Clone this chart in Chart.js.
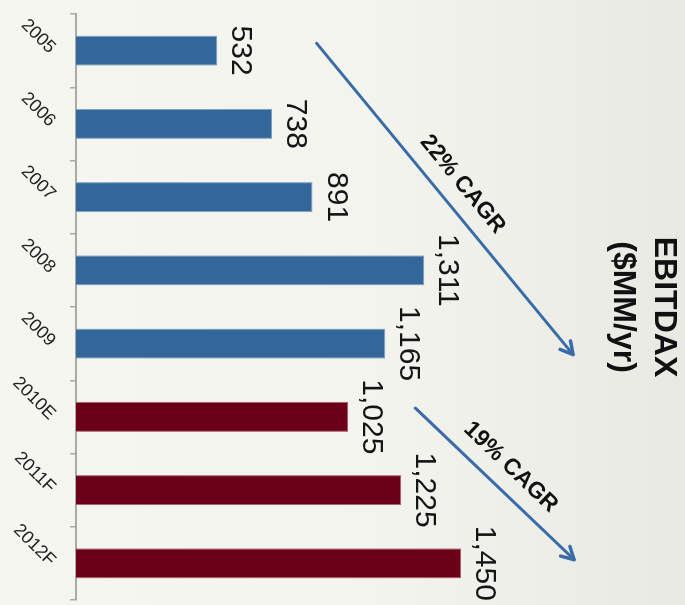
<!DOCTYPE html>
<html lang="en">
<head>
<meta charset="UTF-8">
<title>EBITDAX ($MM/yr)</title>
<script src="https://cdn.jsdelivr.net/npm/chart.js"></script>
<style>
    html, body { margin: 0; padding: 0; }
    body {
        width: 685px;
        height: 605px;
        overflow: hidden;
        background: linear-gradient(90deg, #f6f6f1 0%, #f4f4ef 55%, #e9e9e4 100%);
    }
    /* the slide is laid out upright, then turned a quarter clockwise */
    .slide {
        position: absolute;
        left: 0;
        top: 0;
        width: 605px;
        height: 685px;
        transform-origin: 0 0;
        transform: translate(685px, 0) rotate(90deg);
    }
</style>
</head>
<body>
<div class="slide"><canvas id="ebitdaxChart"></canvas></div>
<script>
    const years = ['2005', '2006', '2007', '2008', '2009', '2010E', '2011F', '2012F'];
    const ebitdax = [532, 738, 891, 1311, 1165, 1025, 1225, 1450];

    // growth arrows: [category index, value] at each end
    const cagrLabels = ['22% CAGR', '19% CAGR'];
    const cagrFrom = [[-0.1, 906], [4.88, 1278]];
    const cagrTo = [[4.15, 1872], [6.95, 1876]];

    const FONT = '"Liberation Sans", Arial, sans-serif';
    const ACTUAL = '#336699';
    const FORECAST = '#6b0019';

    // 2010E onwards are estimates / forecasts
    const isForecast = (label) => /[EF]$/.test(label);

    const annotate = {
        id: 'annotate',
        afterDatasetsDraw(chart) {
            const ctx = chart.ctx;
            const xs = chart.scales.x;
            const ys = chart.scales.y;
            const meta = chart.getDatasetMeta(0);

            ctx.save();
            // value above each bar
            ctx.fillStyle = '#151515';
            ctx.font = '30px ' + FONT;
            ctx.textAlign = 'center';
            ctx.textBaseline = 'alphabetic';
            meta.data.forEach((bar, i) => {
                ctx.fillText(ebitdax[i].toLocaleString('en-US'), bar.x, bar.y - 15);
            });

            cagrLabels.forEach((label, k) => {
                const x0 = xs.getPixelForValue(cagrFrom[k][0]);
                const y0 = ys.getPixelForValue(cagrFrom[k][1]);
                const x1 = xs.getPixelForValue(cagrTo[k][0]);
                const y1 = ys.getPixelForValue(cagrTo[k][1]);
                const ang = Math.atan2(y1 - y0, x1 - x0);

                ctx.strokeStyle = '#3a6ca8';
                ctx.lineWidth = 3;
                ctx.lineCap = 'round';
                ctx.lineJoin = 'round';
                ctx.beginPath();
                ctx.moveTo(x0, y0);
                ctx.lineTo(x1, y1);
                ctx.stroke();

                // open arrow head
                const head = 14;
                ctx.lineWidth = 3.5;
                ctx.beginPath();
                ctx.moveTo(x1 - head * Math.cos(ang - 0.5), y1 - head * Math.sin(ang - 0.5));
                ctx.lineTo(x1, y1);
                ctx.lineTo(x1 - head * Math.cos(ang + 0.5), y1 - head * Math.sin(ang + 0.5));
                ctx.stroke();

                ctx.save();
                ctx.translate((x0 + x1) / 2, (y0 + y1) / 2);
                ctx.rotate(ang);
                ctx.font = 'bold 23px ' + FONT;
                ctx.fillStyle = '#111';
                ctx.textAlign = 'center';
                ctx.textBaseline = 'middle';
                ctx.fillText(label, 0, -23);
                ctx.restore();
            });
            ctx.restore();
        }
    };

    new Chart(document.getElementById('ebitdaxChart'), {
        type: 'bar',
        data: {
            labels: years,
            datasets: [{
                label: 'EBITDAX',
                data: ebitdax,
                backgroundColor: years.map(y => isForecast(y) ? FORECAST : ACTUAL),
                borderColor: years.map(y => isForecast(y) ? '#a8606c' : '#7d9fc4'),
                borderWidth: 1,
                borderSkipped: 'start',
                categoryPercentage: 1,
                barPercentage: 0.41
            }]
        },
        options: {
            responsive: true,
            maintainAspectRatio: false,
            animation: false,
            layout: { padding: { left: 14, right: 5, top: 0, bottom: 0 } },
            scales: {
                x: {
                    afterFit: (axis) => { axis.height = 76; },
                    border: { display: true, color: '#a9a9a6', width: 2 },
                    grid: {
                        display: true,
                        drawOnChartArea: false,
                        drawTicks: true,
                        tickLength: 6,
                        color: '#a9a9a6',
                        lineWidth: 1.5
                    },
                    ticks: {
                        minRotation: 45,
                        maxRotation: 45,
                        padding: 10,
                        color: '#222',
                        font: { family: FONT, size: 18 }
                    }
                },
                y: {
                    display: false,
                    min: 0,
                    max: 1980
                }
            },
            plugins: {
                legend: { display: false },
                tooltip: { enabled: false },
                title: {
                    display: true,
                    text: ['EBITDAX', '($MM/yr)'],
                    color: '#111',
                    padding: 0,
                    font: { family: FONT, size: 32, weight: 'bold', lineHeight: 1.3 }
                }
            }
        },
        plugins: [annotate]
    });
</script>
</body>
</html>
